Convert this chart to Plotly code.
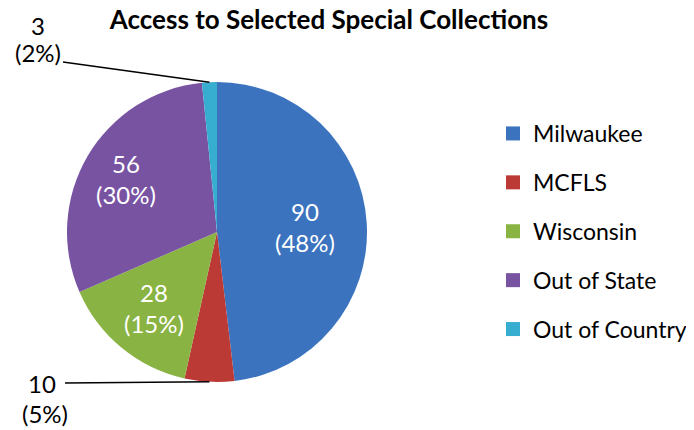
import plotly.graph_objects as go
import math

# data
labels = ['Milwaukee', 'MCFLS', 'Wisconsin', 'Out of State', 'Out of Country']
values = [90, 10, 28, 56, 3]
colors = ['#3B73BE', '#BB3A35', '#89B342', '#7853A2', '#37ADCF']
outside = ['MCFLS', 'Out of Country']

total = sum(values)
font_name = 'Lato'

W, H = 694, 430
OFF = 8  # page body margin shifts the figure by 8px, so targets are given in screen pixels


def px(x):
    return (x - OFF) / W


def py(y):
    return 1 - (y - OFF) / H


# pie placement (screen pixels)
cx, cy, r = 217, 232, 150
# radial position of the inside labels, as a fraction of the radius
inside_r = {'Milwaukee': 0.59, 'Wisconsin': 0.66, 'Out of State': 0.70}

fig = go.Figure()
fig.add_trace(go.Pie(
    labels=labels, values=values, sort=False, direction='clockwise', rotation=0,
    marker=dict(colors=colors, line=dict(width=0)),
    textinfo='none',
    domain=dict(x=[px(cx - r), px(cx + r)], y=[py(cy + r), py(cy - r)]),
    showlegend=False, hoverinfo='label+value+percent',
))

# legend via dummy traces so the entry spacing can be set
for lab, c in zip(labels, colors):
    fig.add_trace(go.Scatter(x=[None], y=[None], mode='markers', name=lab, legendgroup=lab,
                             marker=dict(symbol='square', size=14, color=c)))

# data labels: inside ones at the slice mid-angle, small ones outside with leader lines
lab_font = dict(family=font_name, size=24, color='black')
label_pos = {
    'MCFLS': dict(num=(42, 383), pct=(45, 413), start=(65, 383)),
    'Out of Country': dict(num=(38, 25), pct=(38, 53), start=(63, 62)),
}
cum = 0
for lab, v in zip(labels, values):
    mid = (cum + v / 2) / total * 2 * math.pi
    cum += v
    pct = f'({round(v / total * 100)}%)'
    if lab not in outside:
        f = inside_r[lab]
        lx = cx + f * r * math.sin(mid)
        ly = cy - f * r * math.cos(mid)
        fig.add_annotation(x=px(lx), y=py(ly), xref='paper', yref='paper',
                           xanchor='center', yanchor='middle', text=f'{v}<br>{pct}',
                           showarrow=False, font=dict(family=font_name, size=24, color='white'))
        continue
    ex = cx + r * math.sin(mid)
    ey = cy - r * math.cos(mid)
    p = label_pos[lab]
    fig.add_annotation(x=px(p['num'][0]), y=py(p['num'][1]), xref='paper', yref='paper',
                       xanchor='center', yanchor='middle', text=str(v),
                       showarrow=False, font=lab_font)
    fig.add_annotation(x=px(p['pct'][0]), y=py(p['pct'][1]), xref='paper', yref='paper',
                       xanchor='center', yanchor='middle', text=pct,
                       showarrow=False, font=lab_font)
    fig.add_shape(type='line', xref='paper', yref='paper',
                  x0=px(p['start'][0]), y0=py(p['start'][1]), x1=px(ex), y1=py(ey),
                  line=dict(color='black', width=1.5))

fig.update_layout(
    width=W, height=H,
    margin=dict(l=0, r=0, t=0, b=0),
    paper_bgcolor='white', plot_bgcolor='white',
    title=dict(text='<b>Access to Selected Special Collections</b>', x=px(329), xanchor='center',
               y=1, yanchor='top', pad=dict(t=3, b=0),
               font=dict(family=font_name, size=26, color='black')),
    xaxis=dict(visible=False), yaxis=dict(visible=False),
    legend=dict(x=px(493), xanchor='left', y=py(112), yanchor='top',
                font=dict(family=font_name, size=23, color='black'),
                tracegroupgap=16, itemwidth=30),
)

fig.write_html('out.html')
